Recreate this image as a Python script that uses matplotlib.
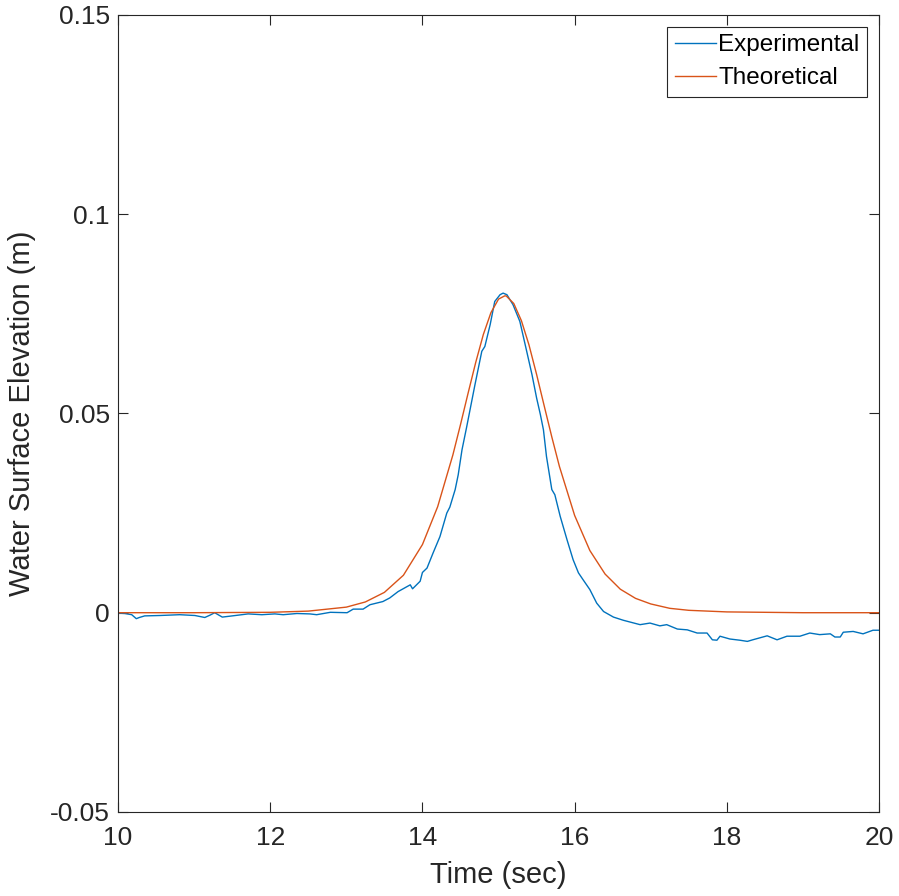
import matplotlib
matplotlib.use("Agg")
import matplotlib.pyplot as plt

# Experimental record
exp_t = [10.00, 10.09, 10.18, 10.24, 10.28, 10.35, 10.55, 10.81, 11.01, 11.14,
         11.21, 11.27, 11.37, 11.50, 11.71, 11.89, 12.06, 12.17, 12.35, 12.52,
         12.61, 12.79, 13.01, 13.09, 13.22, 13.31, 13.48, 13.57, 13.68, 13.84,
         13.87, 13.97, 14.00, 14.06, 14.14, 14.23, 14.32, 14.36, 14.43, 14.47,
         14.52, 14.58, 14.69, 14.78, 14.82, 14.89, 14.95, 15.02, 15.06, 15.11,
         15.19, 15.28, 15.37, 15.44, 15.50, 15.55, 15.59, 15.63, 15.70, 15.74,
         15.81, 15.90, 15.98, 16.05, 16.11, 16.20, 16.29, 16.38, 16.51, 16.64,
         16.86, 16.99, 17.12, 17.21, 17.35, 17.48, 17.61, 17.74, 17.81, 17.87,
         17.91, 18.04, 18.17, 18.27, 18.34, 18.53, 18.66, 18.79, 18.96, 19.09,
         19.22, 19.36, 19.42, 19.49, 19.53, 19.66, 19.79, 19.92, 20.00]
exp_eta = [-0.0001, -0.0002, -0.0005, -0.0015, -0.0012, -0.0008, -0.0007, -0.0005, -0.0007, -0.0012,
           -0.0006, 0.0000, -0.0011, -0.0008, -0.0003, -0.0005, -0.0003, -0.0005, -0.0002, -0.0003,
           -0.0005, 0.0001, 0.0000, 0.0009, 0.0009, 0.0020, 0.0028, 0.0037, 0.0053, 0.0070,
           0.0060, 0.0079, 0.0101, 0.0112, 0.0150, 0.0191, 0.0250, 0.0265, 0.0309, 0.0346,
           0.0409, 0.0465, 0.0572, 0.0656, 0.0668, 0.0723, 0.0781, 0.0798, 0.0802, 0.0798,
           0.0773, 0.0731, 0.0656, 0.0597, 0.0539, 0.0497, 0.0459, 0.0392, 0.0309, 0.0296,
           0.0242, 0.0183, 0.0133, 0.0100, 0.0083, 0.0058, 0.0024, 0.0003, -0.0011, -0.0019,
           -0.0030, -0.0026, -0.0033, -0.0030, -0.0041, -0.0043, -0.0051, -0.0051, -0.0068, -0.0069,
           -0.0059, -0.0066, -0.0069, -0.0072, -0.0068, -0.0058, -0.0068, -0.0059, -0.0059, -0.0051,
           -0.0055, -0.0053, -0.0061, -0.0061, -0.0049, -0.0047, -0.0053, -0.0044, -0.0044]

# Theoretical solitary wave profile
theo_t = [10.0, 11.0, 12.0, 12.5, 13.0, 13.25, 13.5, 13.75, 14.0, 14.2,
          14.4, 14.5, 14.6, 14.7, 14.8, 14.9, 15.0, 15.08, 15.1, 15.2,
          15.3, 15.4, 15.5, 15.6, 15.7, 15.8, 16.0, 16.2, 16.4, 16.6,
          16.8, 17.0, 17.25, 17.5, 18.0, 19.0, 20.0]
theo_eta = [0.0, 0.0, 0.0001, 0.0004, 0.0014, 0.0027, 0.0051, 0.0094, 0.0171, 0.0266,
            0.0396, 0.0472, 0.0551, 0.0628, 0.0698, 0.0753, 0.0787, 0.0795, 0.0795, 0.0776,
            0.0733, 0.0672, 0.0598, 0.0519, 0.0441, 0.0367, 0.0244, 0.0156, 0.0097, 0.0059,
            0.0036, 0.0022, 0.0011, 0.0006, 0.0002, 0.0, 0.0]

x_ticks = [10, 12, 14, 16, 18, 20]
y_ticks = [-0.05, 0, 0.05, 0.1, 0.15]
y_labels = ["-0.05", "0", "0.05", "0.1", "0.15"]

plt.rcParams["font.family"] = ["Liberation Sans", "DejaVu Sans"]

fig = plt.figure(figsize=(8.99, 8.96), dpi=100)
ax = fig.add_axes([0.1313, 0.0938, 0.8465, 0.8895])

ax.plot(exp_t, exp_eta, color="#0072BD", linewidth=1.0, label="Experimental")
ax.plot(theo_t, theo_eta, color="#D95319", linewidth=1.0, label="Theoretical")

ax.set_xlim(10, 20)
ax.set_ylim(-0.05, 0.15)
ax.set_xticks(x_ticks)
ax.set_yticks(y_ticks)
ax.set_yticklabels(y_labels)

ax.tick_params(direction="in", top=True, right=True, length=7, width=0.8,
               labelsize=19, colors="#262626")
ax.tick_params(axis="x", pad=10)
ax.tick_params(axis="y", pad=6)
for sp in ax.spines.values():
    sp.set_color("#262626")
    sp.set_linewidth(0.8)

ax.set_xlabel("Time (sec)", fontsize=21, color="#262626", labelpad=8)
ax.set_ylabel("Water Surface Elevation (m)", fontsize=21, color="#262626", labelpad=10)

leg = ax.legend(loc="upper right", fontsize=17.5, fancybox=False, framealpha=1,
                edgecolor="#262626", handlelength=1.7, handletextpad=0.1,
                borderpad=0.3, labelspacing=0.45, borderaxespad=0.5)
leg.get_frame().set_linewidth(0.8)

fig.savefig("out.png", dpi=100)
